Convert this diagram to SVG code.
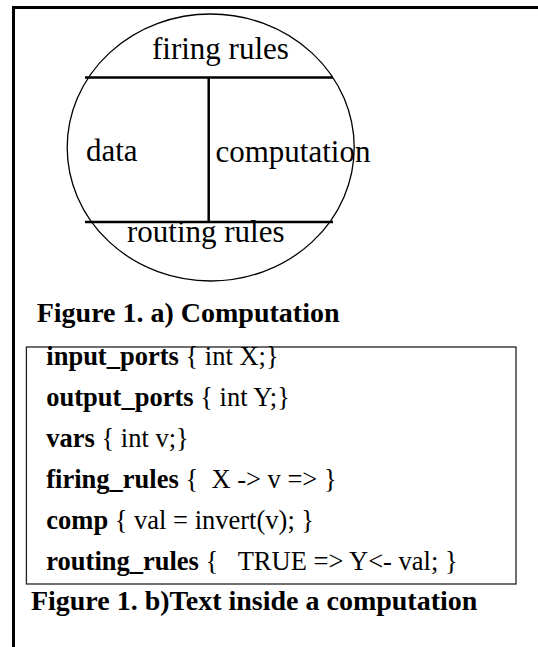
<svg xmlns="http://www.w3.org/2000/svg" width="538" height="647" viewBox="0 0 538 647">
<style>
.t{font-family:"Liberation Serif","Times New Roman",serif;font-size:31px;fill:#000}
.c{font-family:"Liberation Serif","Times New Roman",serif;font-size:26.5px;fill:#000;white-space:pre}
.b{font-weight:bold}
.cap{font-family:"Liberation Serif","Times New Roman",serif;font-size:28px;font-weight:bold;fill:#000}
.thick{stroke:#000;stroke-width:2.5;fill:none}
</style>
<rect width="538" height="647" fill="#fff"/>
<g id="frame">
<line x1="13.5" y1="6" x2="13.5" y2="647" stroke="#000" stroke-width="3"/>
<line x1="12" y1="7.5" x2="538" y2="7.5" stroke="#000" stroke-width="3"/>
</g>
<g id="computation-node">
<ellipse cx="210.7" cy="147.5" rx="143.5" ry="133.5" fill="none" stroke="#000" stroke-width="1.3"/>
</g>
<g id="connectors">
<line class="thick" x1="85" y1="77.5" x2="333" y2="77.5"/>
<line class="thick" x1="85" y1="222" x2="333" y2="222"/>
<line class="thick" x1="208.7" y1="77.5" x2="208.7" y2="222"/>
</g>
<g id="firing-rules"><text class="t" x="152" y="58.7">firing rules</text></g>
<g id="data"><text class="t" x="86" y="161">data</text></g>
<g id="computation"><text class="t" x="215.5" y="162">computation</text></g>
<g id="routing-rules"><text class="t" x="127" y="242">routing rules</text></g>
<g id="caption-a"><text class="cap" x="36.7" y="322">Figure 1. a) Computation</text></g>
<g id="code-box">
<rect x="26.4" y="347" width="489.6" height="237" fill="none" stroke="#222" stroke-width="1.3"/>
<text class="c" x="46.3" y="365"><tspan class="b">input_ports</tspan> { int X;}</text>
<text class="c" x="46.3" y="406"><tspan class="b">output_ports</tspan> { int Y;}</text>
<text class="c" x="46.3" y="447"><tspan class="b">vars</tspan> { int v;}</text>
<text class="c" x="46.3" y="488"><tspan class="b">firing_rules</tspan> {  X -&gt; v =&gt; }</text>
<text class="c" x="46.3" y="529"><tspan class="b">comp</tspan> { val = invert(v); }</text>
<text class="c" x="46.3" y="570"><tspan class="b">routing_rules</tspan> {   TRUE =&gt; Y&lt;- val; }</text>
</g>
<g id="caption-b"><text class="cap" x="30.9" y="610">Figure 1. b)Text inside a computation</text></g>
</svg>
